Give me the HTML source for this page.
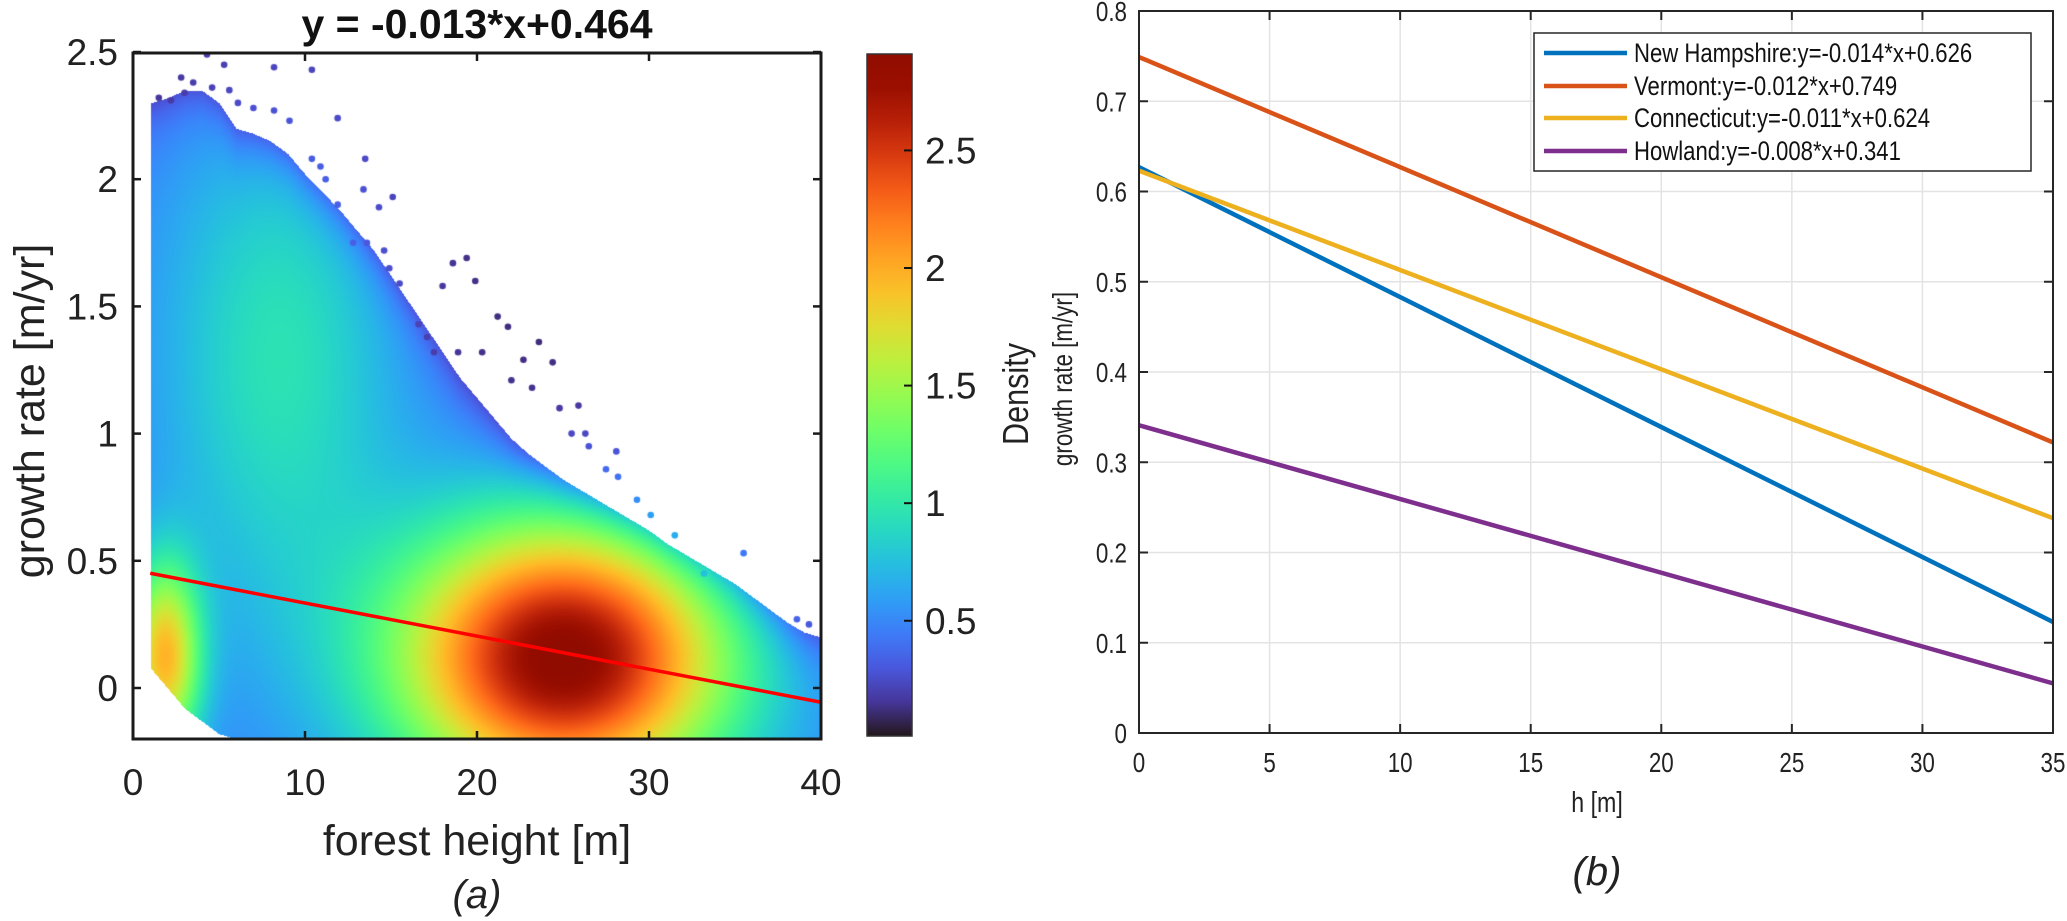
<!DOCTYPE html>
<html><head><meta charset="utf-8"><style>
html,body{margin:0;padding:0;background:#fff;width:2067px;height:921px;overflow:hidden}
#wrap{position:relative;width:2067px;height:921px}
#dens{position:absolute;left:133px;top:53px}
svg{position:absolute;left:0;top:0}
text{font-family:"Liberation Sans",sans-serif}
</style></head><body>
<div id="wrap">
<canvas id="dens" width="688" height="686"></canvas>
<svg id="svg" width="2067" height="921" xmlns="http://www.w3.org/2000/svg">
<defs><linearGradient id="cbg" x1="0" y1="1" x2="0" y2="0"></linearGradient></defs>
</svg>
</div>
<script>
// ---------- Panel (a) data ----------
const envX      = [1,2,3,4,5,6,7,8,9,10,11,12,13,14,15,16,17,18,19,20,21,22,23,24,25,26,27,28,29,30,31,32,33,34,35,36,37,38,39,40];
const envTop    = [2.3,2.32,2.35,2.35,2.3,2.2,2.18,2.15,2.1,2.02,1.95,1.88,1.8,1.72,1.62,1.52,1.42,1.32,1.22,1.14,1.06,0.98,0.92,0.87,0.82,0.78,0.74,0.7,0.66,0.62,0.57,0.53,0.49,0.45,0.41,0.36,0.31,0.26,0.22,0.2];
const envBottom = [0.08,0.0,-0.08,-0.13,-0.18,-0.2,-0.2,-0.2,-0.2,-0.2,-0.2,-0.2,-0.2,-0.2,-0.2,-0.2,-0.2,-0.2,-0.2,-0.2,-0.2,-0.2,-0.2,-0.2,-0.2,-0.2,-0.2,-0.2,-0.2,-0.2,-0.2,-0.2,-0.2,-0.2,-0.2,-0.2,-0.2,-0.2,-0.2,-0.2];
const peakCenters = [[25,0.12],[1.8,0.12],[8.5,1.3]];
const peakAmps    = [2.45,1.45,0.5];
const peakSpreads = [[6.8,0.38],[1.5,0.26],[5,0.75]];
const outX = [11.9,13.5,15.1,14.3,18.6,19.4,19.9,18.0,21.2,21.8,23.6,24.4,22.7,23.2,22,24.8,25.9,25.5,26.3,26.5,28.1,28.2,29.3,30.1,10.4,8.2,5.3,4.3,2.8,8.2,9.1,10.4,10.9,11.2,11.9,13.4,12.8,13.6,14.6,14.9,15.5,16.6,17.1,17.5,18.9,20.3,27.5,35.5,38.6,39.3,31.5,33.2,1.5,2.2,3.5,4.6,6.1,7.0,3.0,5.6];
const outY = [2.24,2.08,1.93,1.89,1.67,1.69,1.6,1.58,1.46,1.42,1.36,1.28,1.29,1.18,1.21,1.1,1.11,1.0,1.0,0.95,0.93,0.83,0.74,0.68,2.43,2.44,2.45,2.49,2.4,2.27,2.23,2.08,2.05,2.0,1.9,1.96,1.75,1.75,1.72,1.65,1.59,1.43,1.38,1.32,1.32,1.32,0.86,0.53,0.27,0.25,0.6,0.45,2.32,2.31,2.38,2.36,2.3,2.28,2.34,2.35];
const fitSlope = -0.013, fitIntercept = 0.464;
const xTicksA = [0,10,20,30,40];
const yTicksA = [0,0.5,1,1.5,2,2.5];
const cbTicks = [0.5,1,1.5,2,2.5];
const cbMin = 0.01, cbMax = 2.91;
// ---------- Panel (b) data ----------
const seriesNames = ["New Hampshire:y=-0.014*x+0.626","Vermont:y=-0.012*x+0.749","Connecticut:y=-0.011*x+0.624","Howland:y=-0.008*x+0.341"];
const seriesStart = [0.627,0.749,0.623,0.341];
const seriesEnd   = [0.123,0.322,0.238,0.055];
const seriesColors = ["#0072BD","#D95319","#EDB120","#7E2F8E"];
const xTicksB = [0,5,10,15,20,25,30,35];
const yTicksB = [0,0.1,0.2,0.3,0.4,0.5,0.6,0.7,0.8];

const XA = v => 133 + v*17.2;
const YA = v => 688 - v*254.4;
const XB = v => 1139 + v*(914/35);
const YB = v => 733 - v*(722/0.8);

function turbo(t){
  t=Math.max(0,Math.min(1,t));
  const r=0.13572138+t*(4.61539260+t*(-42.66032258+t*(132.13108234+t*(-152.94239396+t*59.28637943))));
  const g=0.09140261+t*(2.19418839+t*(4.84296658+t*(-14.18503333+t*(4.27729857+t*2.82956604))));
  const b=0.10667330+t*(12.64194608+t*(-60.58204836+t*(110.36276771+t*(-89.90310912+t*27.34824973))));
  return [Math.round(255*Math.max(0,Math.min(1,r))),Math.round(255*Math.max(0,Math.min(1,g))),Math.round(255*Math.max(0,Math.min(1,b)))];
}
function interp(xs,ys,x){
  if(x<=xs[0]) return ys[0];
  for(let i=1;i<xs.length;i++){ if(x<=xs[i]){const f=(x-xs[i-1])/(xs[i]-xs[i-1]);return ys[i-1]+f*(ys[i]-ys[i-1]);} }
  return ys[ys.length-1];
}
function density(x,y){
  let v=0.45;
  for(let i=0;i<peakCenters.length;i++){
    const sx=peakSpreads[i][0];
    const dx=(x-peakCenters[i][0])/sx, dy=(y-peakCenters[i][1])/peakSpreads[i][1];
    v+=peakAmps[i]*Math.exp(-0.5*(dx*dx+dy*dy));
  }
  return v;
}
(function(){
  const c=document.getElementById('dens'), ctx=c.getContext('2d');
  const W=c.width,H=c.height, img=ctx.createImageData(W,H), d=img.data;
  for(let py=0;py<H;py++){
    const y=(688-(53+py))/254.4;
    for(let px=0;px<W;px++){
      const x=px/17.2;
      if(x<envX[0]||x>40) continue;
      const top=interp(envX,envTop,x), bot=interp(envX,envBottom,x);
      if(y>top||y<bot) continue;
      let v=density(x,y);
      v-=Math.min(0.35,v*0.5)*Math.exp(-(top-y)/0.12);
      const col=turbo((v-cbMin)/(cbMax-cbMin));
      const k=(py*W+px)*4; d[k]=col[0];d[k+1]=col[1];d[k+2]=col[2];d[k+3]=255;
    }
  }
  ctx.putImageData(img,0,0);
  for(let i=0;i<outX.length;i++){
    const v=Math.max(0.08,(density(outX[i],outY[i])-0.45)*0.8+0.1);
    const col=turbo((v-cbMin)/(cbMax-cbMin));
    ctx.fillStyle=`rgb(${col[0]},${col[1]},${col[2]})`;
    ctx.beginPath();ctx.arc(XA(outX[i])-133,YA(outY[i])-53,3.3,0,Math.PI*2);ctx.fill();
  }
})();

const NS="http://www.w3.org/2000/svg", svg=document.getElementById('svg');
function el(tag,attrs,txt){const e=document.createElementNS(NS,tag);for(const k in attrs)e.setAttribute(k,attrs[k]);if(txt!==undefined)e.textContent=txt;svg.appendChild(e);return e;}

const grad=document.getElementById('cbg');
for(let i=0;i<=20;i++){const t=i/20,c=turbo(t);const s=document.createElementNS(NS,'stop');s.setAttribute('offset',t);s.setAttribute('stop-color',`rgb(${c[0]},${c[1]},${c[2]})`);grad.appendChild(s);}

let e;
e=el('line',{x1:XA(1),y1:YA(fitSlope*1+fitIntercept),x2:XA(40),y2:YA(fitSlope*40+fitIntercept),stroke:'#ff0000','stroke-width':3.5});

e=el('rect',{x:133,y:53,width:688,height:686,fill:'none',stroke:'#1a1a1a','stroke-width':3});

xTicksA.forEach(v=>{
  el('line',{x1:XA(v),y1:739,x2:XA(v),y2:731,stroke:'#1a1a1a','stroke-width':2.5});
  el('line',{x1:XA(v),y1:53,x2:XA(v),y2:61,stroke:'#1a1a1a','stroke-width':2.5});
  e=el('text',{x:XA(v),y:795,'font-size':37,'text-anchor':'middle',fill:'#222'},String(v));
  
});
yTicksA.forEach(v=>{
  el('line',{x1:133,y1:YA(v),x2:141,y2:YA(v),stroke:'#1a1a1a','stroke-width':2.5});
  el('line',{x1:821,y1:YA(v),x2:813,y2:YA(v),stroke:'#1a1a1a','stroke-width':2.5});
  e=el('text',{x:118,y:YA(v)+13,'font-size':37,'text-anchor':'end',fill:'#222'},String(v));
  
});
e=el('text',{x:477,y:38,'font-size':41,'font-weight':'bold','text-anchor':'middle',fill:'#111'},'y = -0.013*x+0.464');

e=el('text',{x:477,y:855,'font-size':43,'text-anchor':'middle',fill:'#222'},'forest height [m]');

e=el('text',{x:0,y:0,'font-size':43,'text-anchor':'middle',fill:'#222',transform:'translate(44,411) rotate(-90)'},'growth rate [m/yr]');

e=el('text',{x:477,y:908,'font-size':40,'font-style':'italic','text-anchor':'middle',fill:'#222','font-family':'Liberation Serif, serif'},'(a)');

e=el('rect',{x:867,y:54,width:45,height:682,fill:'url(#cbg)',stroke:'#333','stroke-width':1.5});

const YC=v=>736-(v-cbMin)/(cbMax-cbMin)*682;
cbTicks.forEach(v=>{
  el('line',{x1:904,y1:YC(v),x2:912,y2:YC(v),stroke:'#111','stroke-width':2});
  e=el('text',{x:925,y:YC(v)+13,'font-size':37,fill:'#222'},String(v));
  
});
e=el('text',{x:0,y:0,'font-size':36,'text-anchor':'middle',fill:'#222',transform:'translate(1028,394) rotate(-90) scale(0.85,1)'},'Density');


yTicksB.forEach(v=>{
  e=el('line',{x1:1139,y1:YB(v),x2:2053,y2:YB(v),stroke:'#e3e3e3','stroke-width':1.5});
  
});
xTicksB.forEach(v=>{
  e=el('line',{x1:XB(v),y1:11,x2:XB(v),y2:733,stroke:'#e3e3e3','stroke-width':1.5});
  
});
for(let i=0;i<seriesNames.length;i++){
  e=el('line',{x1:XB(0),y1:YB(seriesStart[i]),x2:XB(35),y2:YB(seriesEnd[i]),stroke:seriesColors[i],'stroke-width':4.5});
  
}
e=el('rect',{x:1139,y:11,width:914,height:722,fill:'none',stroke:'#262626','stroke-width':2});

xTicksB.forEach(v=>{
  el('line',{x1:XB(v),y1:733,x2:XB(v),y2:724,stroke:'#262626','stroke-width':2});
  el('line',{x1:XB(v),y1:11,x2:XB(v),y2:20,stroke:'#262626','stroke-width':2});
  e=el('text',{x:0,y:0,'font-size':28,'text-anchor':'middle',fill:'#222',transform:`translate(${XB(v)},772) scale(0.8,1)`},String(v));
  
});
yTicksB.forEach(v=>{
  el('line',{x1:1139,y1:YB(v),x2:1148,y2:YB(v),stroke:'#262626','stroke-width':2});
  el('line',{x1:2053,y1:YB(v),x2:2044,y2:YB(v),stroke:'#262626','stroke-width':2});
  e=el('text',{x:0,y:0,'font-size':28,'text-anchor':'end',fill:'#222',transform:`translate(1127,${YB(v)+10}) scale(0.8,1)`},String(v));
  
});
e=el('text',{x:0,y:0,'font-size':29,'text-anchor':'middle',fill:'#222',transform:'translate(1597,812) scale(0.8,1)'},'h [m]');

e=el('text',{x:0,y:0,'font-size':28,'text-anchor':'middle',fill:'#222',transform:'translate(1072,379) rotate(-90) scale(0.8,1)'},'growth rate [m/yr]');

e=el('text',{x:1597,y:885,'font-size':40,'font-style':'italic','text-anchor':'middle',fill:'#222','font-family':'Liberation Serif, serif'},'(b)');

e=el('rect',{x:1534,y:33,width:497,height:138,fill:'#fff',stroke:'#262626','stroke-width':1.5});

const legRowY=[53,86,118,151];
for(let i=0;i<seriesNames.length;i++){
  e=el('line',{x1:1544,y1:legRowY[i],x2:1627,y2:legRowY[i],stroke:seriesColors[i],'stroke-width':4.5});
  
  e=el('text',{x:0,y:0,'font-size':27,fill:'#111',transform:`translate(1634,${legRowY[i]+9}) scale(0.82,1)`},seriesNames[i]);
  
}
</script>
</body></html>
